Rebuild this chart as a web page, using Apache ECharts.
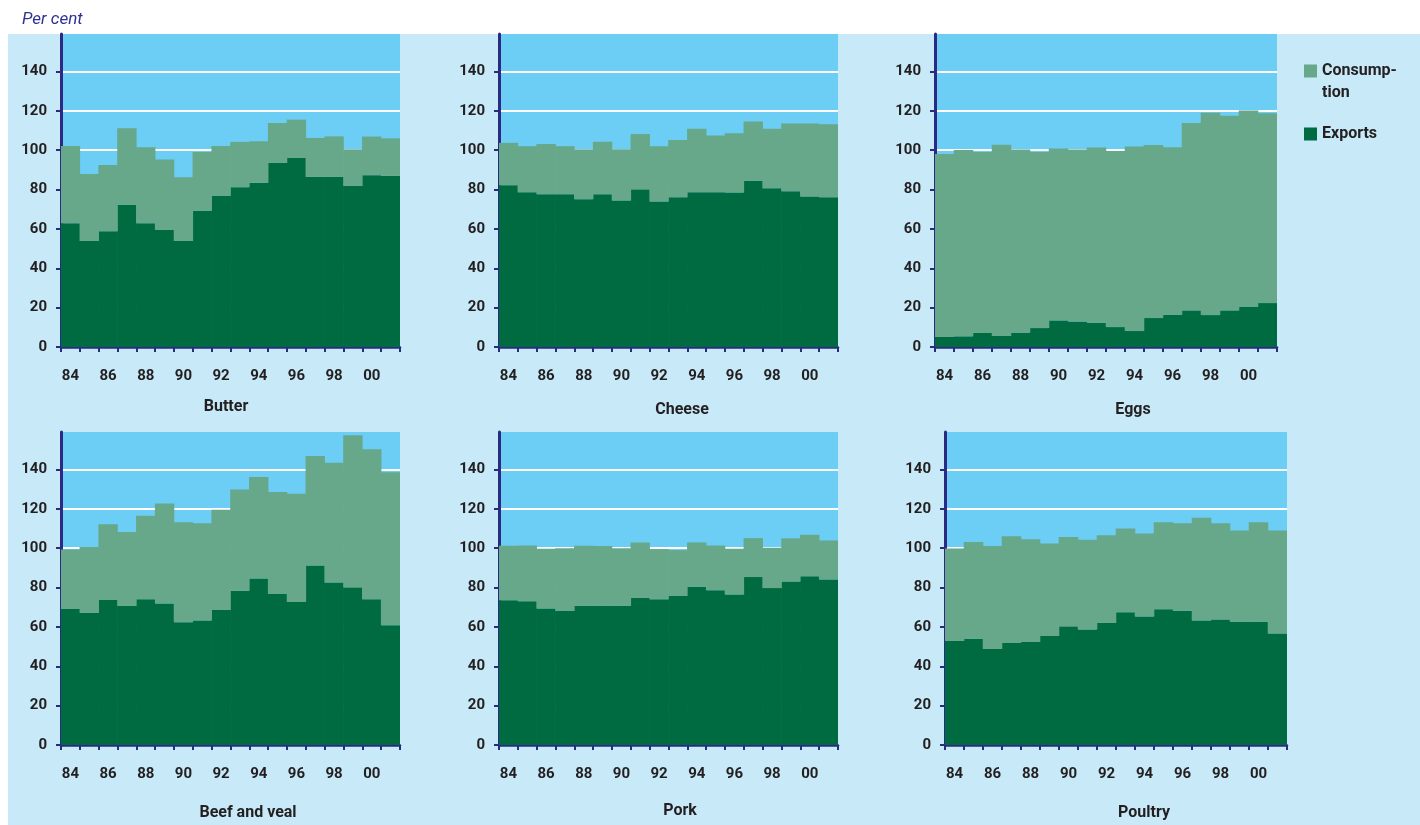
<!DOCTYPE html>
<html>
<head>
<meta charset="utf-8">
<script src="https://cdn.jsdelivr.net/npm/echarts@6/dist/echarts.min.js"></script>
<style>
  html, body { margin: 0; padding: 0; background: #ffffff; }
  #wrap { position: relative; width: 1420px; height: 825px; overflow: hidden; }
  #panel { position: absolute; left: 8px; top: 34px; width: 1412px; height: 791px; background: #C7E9F8; }
  #chart { position: absolute; left: 0; top: 0; width: 1420px; height: 825px; }
</style>
</head>
<body>
<div id="wrap"><div id="panel"></div><div id="chart"></div></div>
<script>
// Years 1984-2001
const years = ['84','85','86','87','88','89','90','91','92','93','94','95','96','97','98','99','00','01'];
const yTicks = [0, 20, 40, 60, 80, 100, 120, 140];
const panelTitles = ['Butter', 'Cheese', 'Eggs', 'Beef and veal', 'Pork', 'Poultry'];

// Exports (per cent)
const butterExports  = [62.9, 53.8, 58.8, 72.2, 62.9, 59.4, 53.9, 69.2, 76.8, 81.2, 83.5, 93.5, 96.0, 86.4, 86.4, 81.8, 87.3, 86.9];
const cheeseExports  = [82.2, 78.6, 77.6, 77.6, 75.1, 77.6, 74.4, 80.1, 73.9, 76.1, 78.6, 78.6, 78.5, 84.4, 80.7, 79.1, 76.4, 76.1];
const eggsExports    = [5.1, 5.4, 7.1, 5.6, 7.3, 9.6, 13.5, 12.9, 12.3, 10.1, 8.1, 14.7, 16.4, 18.6, 16.2, 18.6, 20.5, 22.3];
const beefExports    = [69.1, 67.0, 73.6, 70.6, 74.0, 71.9, 62.3, 63.3, 68.6, 78.4, 84.6, 76.7, 72.6, 91.2, 82.6, 80.1, 74.0, 60.8];
const porkExports    = [73.5, 73.0, 69.4, 68.1, 70.8, 70.8, 70.8, 74.7, 74.0, 75.7, 80.4, 78.6, 76.5, 85.3, 79.7, 83.0, 85.7, 84.1];
const poultryExports = [52.8, 54.0, 48.8, 51.8, 52.3, 55.4, 60.3, 58.7, 62.0, 67.4, 65.3, 68.9, 68.2, 63.3, 63.8, 62.6, 62.6, 56.7];

// Consumption (per cent, stacked on top of exports)
const butterConsumption  = [39.2, 34.1, 33.7, 38.9, 38.6, 35.8, 32.3, 29.9, 25.3, 23.0, 21.0, 20.3, 19.5, 19.8, 20.6, 18.6, 19.6, 19.1];
const cheeseConsumption  = [21.5, 23.4, 25.5, 24.4, 25.3, 26.7, 26.0, 28.1, 28.1, 29.1, 32.3, 28.9, 30.1, 30.2, 30.2, 34.4, 37.1, 37.0];
const eggsConsumption    = [93.0, 94.7, 91.9, 97.2, 93.0, 89.4, 87.3, 87.4, 89.0, 89.5, 93.7, 87.9, 85.1, 95.2, 102.8, 98.9, 99.7, 96.4];
const beefConsumption    = [30.2, 33.6, 38.6, 37.6, 42.5, 50.8, 50.8, 49.4, 50.9, 51.4, 51.5, 51.8, 55.0, 55.6, 60.8, 77.3, 76.3, 77.7];
const porkConsumption    = [27.7, 28.4, 30.3, 31.9, 30.4, 30.3, 29.2, 28.2, 25.5, 23.3, 22.5, 22.8, 23.2, 19.8, 20.5, 22.0, 21.1, 19.8];
const poultryConsumption = [47.0, 49.1, 52.3, 54.2, 52.2, 47.0, 45.3, 45.6, 44.5, 42.6, 42.2, 44.2, 44.4, 52.2, 48.9, 46.3, 50.5, 52.2];

const exportsData = [butterExports, cheeseExports, eggsExports, beefExports, porkExports, poultryExports];
const consumptionData = [butterConsumption, cheeseConsumption, eggsConsumption, beefConsumption, porkConsumption, poultryConsumption];

const NAVY = '#2B2A83';
const TEXT = '#231F20';
const DARK = '#006A40';
const LIGHT = '#67A88A';
const SKY = '#6DCEF5';
const FONT = 'Roboto, "Noto Sans", sans-serif';

const grids = [
  { left: 61,  top: 34,  width: 339, height: 313 },
  { left: 499, top: 34,  width: 339, height: 313 },
  { left: 935, top: 34,  width: 342, height: 313 },
  { left: 61,  top: 432, width: 339, height: 313 },
  { left: 499, top: 432, width: 339, height: 313 },
  { left: 945, top: 432, width: 342, height: 313 }
];
const titlePos = [
  [226, 409], [682, 412], [1133, 412],
  [248, 815], [680, 813], [1144, 815]
];

const option = {
  animation: false,
  backgroundColor: 'transparent',
  textStyle: { fontFamily: FONT },
  title: [
    { text: 'Per cent', left: 22, top: 11, padding: 0,
      textStyle: { fontSize: 17, fontStyle: 'italic', fontWeight: 'normal', color: '#2E3192', fontFamily: FONT } }
  ].concat(panelTitles.map((t, i) => ({
    text: t, left: titlePos[i][0], top: titlePos[i][1] - 10, textAlign: 'center', padding: 0,
    textStyle: { fontSize: 16, fontWeight: 'bold', color: TEXT, fontFamily: FONT }
  }))),
  legend: {
    data: ['Consumption', 'Exports'],
    orient: 'vertical',
    left: 1304, top: 38, padding: 0,
    itemWidth: 13, itemHeight: 13, itemGap: 19,
    icon: 'rect',
    selectedMode: false,
    formatter: function (name) { return name === 'Consumption' ? '\nConsump-\ntion' : name; },
    textStyle: { fontSize: 16, fontWeight: 'bold', color: TEXT, lineHeight: 22, fontFamily: FONT }
  },
  grid: grids.map(g => Object.assign({ show: true, backgroundColor: SKY, borderWidth: 0, containLabel: false }, g)),
  xAxis: grids.map((g, i) => ({
    type: 'category', gridIndex: i, data: years, boundaryGap: true,
    axisLine: { show: true, lineStyle: { color: NAVY, width: 2.5 } },
    axisTick: { show: true, interval: 0, length: 5, lineStyle: { color: NAVY, width: 2 } },
    axisLabel: { interval: 1, margin: 22, fontSize: 15, fontWeight: 'bold', color: TEXT, fontFamily: FONT },
    splitLine: { show: false }
  })),
  yAxis: grids.map((g, i) => ({
    type: 'value', gridIndex: i, min: 0, max: 159, interval: 20,
    axisLine: { show: true, lineStyle: { color: NAVY, width: 3 } },
    axisTick: { show: true, length: 5, customValues: yTicks, lineStyle: { color: NAVY, width: 2 } },
    axisLabel: { customValues: yTicks, margin: 14, fontSize: 15, fontWeight: 'bold', color: TEXT, fontFamily: FONT },
    splitLine: { show: true, lineStyle: { color: '#FFFFFF', width: 2 } }
  })),
  series: []
};

for (let i = 0; i < 6; i++) {
  option.series.push({
    name: 'Exports', type: 'bar', stack: 'p' + i, xAxisIndex: i, yAxisIndex: i,
    data: exportsData[i], barWidth: '103%',
    itemStyle: { color: DARK }, emphasis: { disabled: true }
  });
  option.series.push({
    name: 'Consumption', type: 'bar', stack: 'p' + i, xAxisIndex: i, yAxisIndex: i,
    data: consumptionData[i], barWidth: '103%',
    itemStyle: { color: LIGHT }, emphasis: { disabled: true }
  });
}

const chart = echarts.init(document.getElementById('chart'), null, { renderer: 'canvas' });
chart.setOption(option);
</script>
</body>
</html>
